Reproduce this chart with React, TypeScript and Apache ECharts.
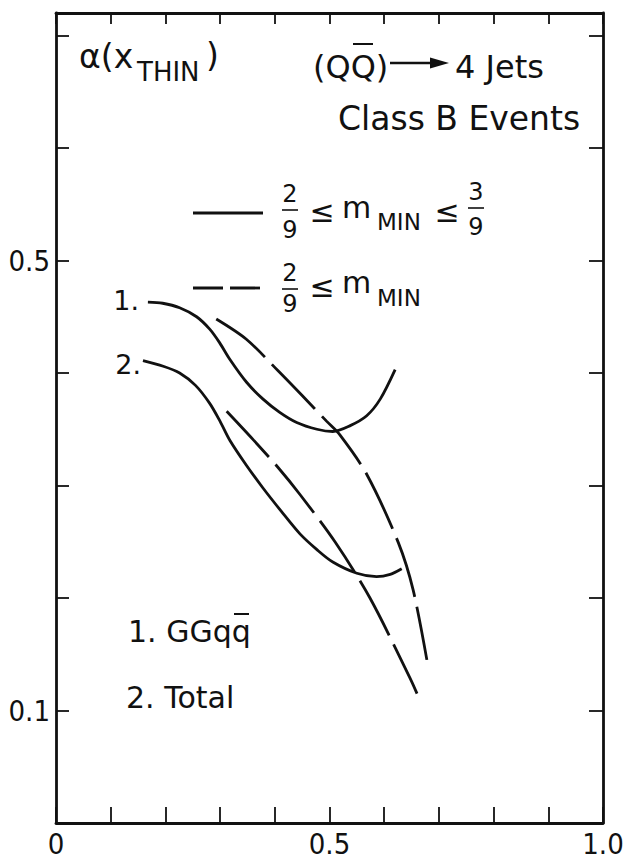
import React, { useEffect, useRef } from "react";
import * as echarts from "echarts";

// ---- data ----
// curve 1 (GGqq̄), 2/9 <= m_MIN <= 3/9 (solid)
const c1SolidX = [0.168, 0.195, 0.226, 0.257, 0.281, 0.299, 0.318, 0.348, 0.378, 0.409, 0.44, 0.477, 0.506, 0.537, 0.568, 0.593, 0.62];
const c1SolidY = [0.463, 0.462, 0.458, 0.450, 0.439, 0.427, 0.412, 0.392, 0.377, 0.365, 0.356, 0.35, 0.348, 0.353, 0.362, 0.377, 0.403];
// curve 2 (Total), 2/9 <= m_MIN <= 3/9 (solid)
const c2SolidX = [0.159, 0.196, 0.226, 0.255, 0.281, 0.3, 0.318, 0.348, 0.378, 0.412, 0.446, 0.477, 0.506, 0.55, 0.586, 0.611, 0.632];
const c2SolidY = [0.411, 0.406, 0.4, 0.389, 0.373, 0.357, 0.34, 0.318, 0.298, 0.277, 0.257, 0.243, 0.232, 0.222, 0.219, 0.221, 0.226];
// curve 1 (GGqq̄), 2/9 <= m_MIN (dashed)
const c1DashX = [0.293, 0.348, 0.406, 0.45, 0.495, 0.519, 0.568, 0.626, 0.653, 0.678];
const c1DashY = [0.448, 0.43, 0.402, 0.38, 0.357, 0.345, 0.31, 0.249, 0.207, 0.145];
// curve 2 (Total), 2/9 <= m_MIN (dashed)
const c2DashX = [0.312, 0.36, 0.406, 0.446, 0.51, 0.574, 0.647, 0.66];
const c2DashY = [0.366, 0.341, 0.316, 0.292, 0.25, 0.2, 0.129, 0.115];

const xTickLabels: Record<number, string> = { 0: "0", 5: "0.5", 10: "1.0" };
const yTickLabels: Record<number, string> = { 10: "0.1", 50: "0.5" };

const FONT = "'DejaVu Sans', sans-serif";
const NUMFONT = "'Liberation Sans Narrow', 'DejaVu Sans Condensed', 'Liberation Sans', sans-serif";
const INK = "#111";

const zip = (xs: number[], ys: number[]) => xs.map((x, i) => [x, ys[i]]);

const txt = (text: string, x: number, y: number, size: number, align: string = "left") => ({
  type: "text",
  x,
  y,
  silent: true,
  style: { text, fontSize: size, fontFamily: FONT, fill: INK, align, verticalAlign: "middle" },
});
const ln = (x1: number, y1: number, x2: number, y2: number, w = 2, dash?: number[]) => ({
  type: "line",
  silent: true,
  shape: { x1, y1, x2, y2 },
  style: { stroke: INK, lineWidth: w, lineDash: dash },
});
const frac = (cx: number, num: string, den: string, yn: number, yb: number, yd: number) => [
  txt(num, cx, yn, 24, "center"),
  ln(cx - 8, yb, cx + 8, yb, 1.6),
  txt(den, cx, yd, 24, "center"),
];

export default function App() {
  const ref = useRef<HTMLDivElement>(null);
  useEffect(() => {
    if (!ref.current) return;
    const chart = echarts.init(ref.current, undefined, { renderer: "svg" });
    const axisLine = { show: true, onZero: false, lineStyle: { color: INK, width: 2.8 } };
    const lineStyleSolid = { color: INK, width: 2.8 };
    const lineStyleDash = { color: INK, width: 2.8, type: [62, 10] as any };
    const common = { type: "line", smooth: 0.3, symbol: "none" };
    chart.setOption({
      animation: false,
      backgroundColor: "#fff",
      grid: { left: 56, right: 27, top: 13, bottom: 41, containLabel: false },
      xAxis: [
        {
          type: "value",
          min: 0,
          max: 1,
          interval: 0.1,
          position: "bottom",
          axisLine,
          splitLine: { show: false },
          axisTick: { show: true, inside: true, length: 16, lineStyle: { color: INK, width: 1.8 } },
          axisLabel: {
            margin: 6,
            fontSize: 29,
            fontFamily: NUMFONT,
            color: INK,
            formatter: (v: number) => xTickLabels[Math.round(v * 10)] ?? "",
          },
        },
        {
          type: "value",
          min: 0,
          max: 1,
          interval: 0.1,
          position: "top",
          axisLine,
          splitLine: { show: false },
          axisTick: { show: true, inside: true, length: 11, lineStyle: { color: INK, width: 1.8 } },
          axisLabel: { show: false },
        },
      ],
      yAxis: [
        {
          type: "value",
          min: 0,
          max: 0.72,
          interval: 0.1,
          position: "left",
          axisLine,
          splitLine: { show: false },
          axisTick: { show: true, inside: true, length: 13, lineStyle: { color: INK, width: 1.8 } },
          axisLabel: {
            margin: 6,
            fontSize: 29,
            fontFamily: NUMFONT,
            color: INK,
            formatter: (v: number) => yTickLabels[Math.round(v * 100)] ?? "",
          },
        },
        {
          type: "value",
          min: 0,
          max: 0.72,
          interval: 0.1,
          position: "right",
          axisLine,
          splitLine: { show: false },
          axisTick: { show: true, inside: true, length: 14, lineStyle: { color: INK, width: 1.8 } },
          axisLabel: { show: false },
        },
      ],
      series: [
        { ...common, name: "1 solid", data: zip(c1SolidX, c1SolidY), lineStyle: lineStyleSolid },
        { ...common, name: "2 solid", data: zip(c2SolidX, c2SolidY), lineStyle: lineStyleSolid },
        { ...common, name: "1 dashed", data: zip(c1DashX, c1DashY), lineStyle: lineStyleDash },
        { ...common, name: "2 dashed", data: zip(c2DashX, c2DashY), lineStyle: lineStyleDash },
      ],
      graphic: [
        // y-axis title α(x_THIN)
        txt("α(x", 79, 56, 33),
        txt("THIN", 137, 72, 26),
        txt(")", 206, 55, 33),
        // (QQ̄) → 4 Jets
        txt("(QQ)", 313, 67, 32),
        ln(353, 44, 373, 44, 2),
        ln(390, 63, 434, 63, 2.4),
        { type: "polygon", silent: true, shape: { points: [[430, 57.5], [449, 63], [430, 68.5]] }, style: { fill: INK } },
        txt("4 Jets", 455, 67, 32),
        txt("Class B Events", 338, 118, 33),
        // legend: solid
        ln(193, 213, 263, 213, 2.8),
        ...frac(290, "2", "9", 194, 210, 230),
        txt("≤", 322, 211, 30, "center"),
        txt("m", 342, 207.5, 30),
        txt("MIN", 377, 222, 23),
        txt("≤", 447, 211, 30, "center"),
        ...frac(476, "3", "9", 192, 208, 227),
        // legend: dashed
        ln(193, 288, 263, 288, 2.8, [30, 7]),
        ...frac(290, "2", "9", 273, 289, 304),
        txt("≤", 322, 286, 30, "center"),
        txt("m", 342, 282, 30),
        txt("MIN", 377, 298, 23),
        // curve numbers
        txt("1.", 139, 300, 27, "right"),
        txt("2.", 141, 364, 27, "right"),
        // key
        txt("1. GGqq", 128, 631, 30),
        ln(234, 614, 249, 614, 2),
        txt("2. Total", 126, 697, 30),
      ],
    });
    return () => chart.dispose();
  }, []);
  return (
    <div
      ref={ref}
      style={{ position: "fixed", left: 0, top: 0, width: 630, height: 864, background: "#fff" }}
    />
  );
}
